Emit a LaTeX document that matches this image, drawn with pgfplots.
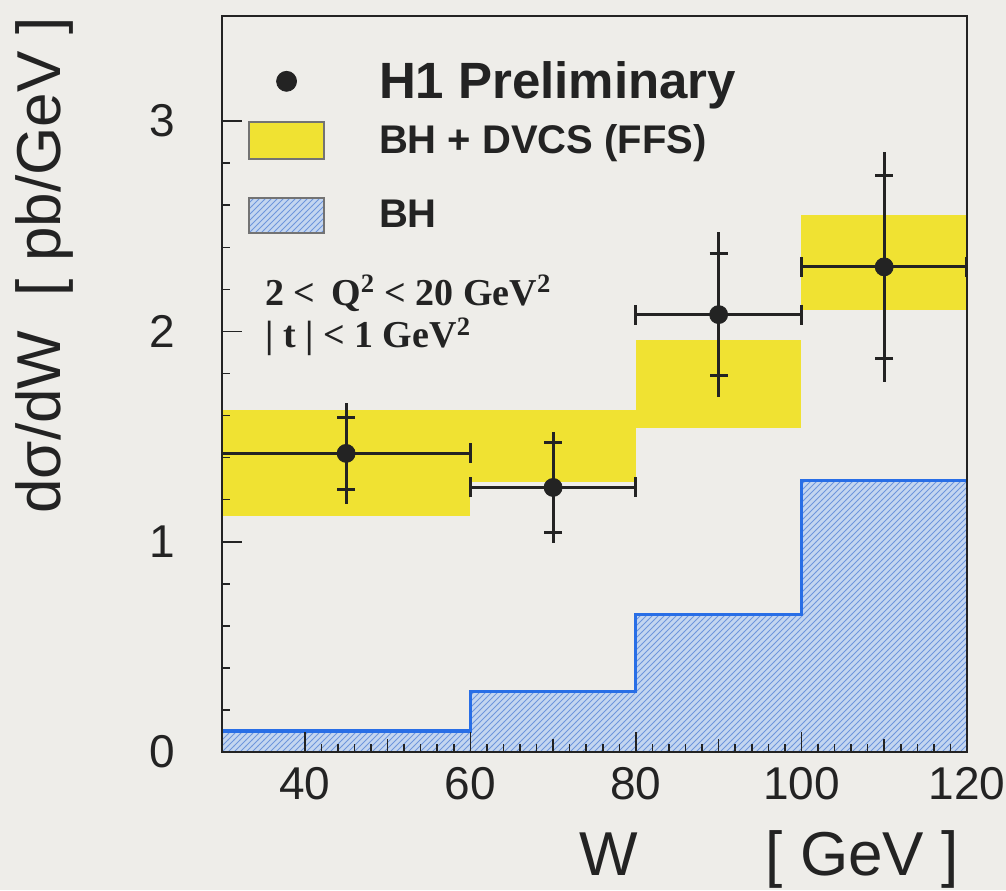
\documentclass[border=0pt]{standalone}
\usepackage{pgfplots}
\pgfplotsset{compat=1.18}
\usepackage{pgfplotstable}
\usepackage{fontspec}
\setmainfont{Liberation Sans}
\newfontfamily\timesfont{Liberation Serif}
\usetikzlibrary{patterns,backgrounds}
\definecolor{bg}{RGB}{238,237,233}
\definecolor{h1yellow}{RGB}{240,226,50}
\definecolor{bhline}{RGB}{40,110,230}
\definecolor{bhfill}{RGB}{196,214,240}
\definecolor{bhhatch}{RGB}{110,150,220}
\definecolor{ink}{RGB}{35,35,35}

\pgfplotsset{dotlegend/.style={legend image code/.code={\draw[##1, mark size=5pt] plot coordinates {(18.75pt,0pt)}; \path[draw=none,fill=none] (0pt,-10pt) -- (65pt,17pt);}}}

\pgfplotstableread{
x ex y stat tot
45 15 1.420 0.170 0.242
70 10 1.258 0.212 0.265
90 10 2.080 0.290 0.392
110 10 2.307 0.436 0.547
}\datatable

\pgfplotstableread{
x y
30 0.100
60 0.287
80 0.655
100 1.293
120 1.293
}\bhtable

\begin{document}
\begin{tikzpicture}
\begin{axis}[
  scale only axis,
  width=372.5pt, height=368pt,
  xmin=30, xmax=120, ymin=0, ymax=3.5,
  axis on top,
  axis line style={line width=1.2pt, color=ink},
  tick pos=left,
  tick align=inside,
  xtick={40,60,80,100,120},
  minor x tick num=9,
  extra x ticks={50,70,90,110},
  extra x tick labels={},
  extra x tick style={major tick length=6.5pt},
  ytick={0,1,2,3},
  minor y tick num=4,
  major tick length=10pt,
  minor tick length=4pt,
  every tick/.style={color=ink, line width=0.8pt},
  /pgf/number format/assume math mode=true,
  ticklabel style={font=\fontsize{23}{26}\selectfont, color=ink, inner sep=0pt},
  every x tick label/.append style={yshift=-7.5pt},
  every y tick label/.append style={xshift=-23.5pt},
  xlabel={W\hspace{64pt}[ GeV ]},
  xlabel style={at={(axis description cs:1,0)}, anchor=base east, yshift=-61.5pt, xshift=-4pt,
    inner sep=0pt, font=\fontsize{31}{34}\selectfont, color=ink},
  ylabel={dσ/dW\ \ [ pb/GeV ]},
  ylabel style={at={(axis description cs:-0.278,0.999)}, anchor=north east,
    inner sep=0pt, font=\fontsize{31}{34}\selectfont, color=ink},
  legend style={at={(axis description cs:0.035,0.958)}, anchor=north west,
    draw=none, fill=none, inner sep=0pt, row sep=10pt,
    font=\bfseries\fontsize{20}{24}\selectfont, text=ink,
    nodes={inner sep=0pt}},
  legend cell align=left,
]
% yellow bands (BH + DVCS)
\addplot[draw=none, fill=h1yellow, forget plot] coordinates {(30,1.122) (60,1.122) (60,1.625) (30,1.625)};
\addplot[draw=none, fill=h1yellow, forget plot] coordinates {(60,1.285) (80,1.285) (80,1.625) (60,1.625)};
\addplot[draw=none, fill=h1yellow, forget plot] coordinates {(80,1.539) (100,1.539) (100,1.958) (80,1.958)};
\addplot[draw=none, fill=h1yellow, forget plot] coordinates {(100,2.101) (120,2.101) (120,2.553) (100,2.553)};
% BH histogram
\addplot[const plot, draw=none, fill=bhfill, postaction={pattern=north east lines, pattern color=bhhatch}, forget plot]
  table[x=x, y=y] {\bhtable} \closedcycle;
\addplot[const plot, color=bhline, line width=1.6pt, forget plot] table[x=x, y=y] {\bhtable};
% data: total vertical errors (no caps)
\addplot[only marks, mark=none, color=ink, forget plot,
  error bars/.cd, y dir=both, y explicit,
  error bar style={line width=1.5pt, color=ink},
  error mark options={mark size=0pt}]
  table[x=x, y=y, y error=tot] {\datatable};
% horizontal bin bars with end caps
\addplot[only marks, mark=none, color=ink, forget plot,
  error bars/.cd, x dir=both, x explicit,
  error bar style={line width=1.5pt, color=ink},
  error mark options={rotate=90, mark size=5pt, line width=1.5pt}]
  table[x=x, y=y, x error=ex] {\datatable};
% statistical ticks
\addplot[only marks, mark=none, color=ink, forget plot,
  error bars/.cd, y dir=both, y explicit,
  error bar style={line width=1.5pt, color=ink},
  error mark options={rotate=90, mark size=4.5pt, line width=1.5pt}]
  table[x=x, y=y, y error=stat] {\datatable};
% markers
\addplot[only marks, mark=*, mark size=4.5pt, color=ink, fill=ink, dotlegend]
  table[x=x, y=y] {\datatable};
\addlegendentry{\fontsize{25.5}{30}\selectfont H1 Preliminary}
\addlegendimage{legend image code/.code={\draw[fill=h1yellow, draw=black!55, line width=0.6pt] (0pt,-9.25pt) rectangle (37.5pt,9.25pt); \path[draw=none,fill=none] (0pt,0pt) -- (65pt,0pt);}}
\addlegendentry{BH + DVCS (FFS)}
\addlegendimage{legend image code/.code={\draw[fill=bhfill, draw=black!55, line width=0.6pt, postaction={pattern=north east lines, pattern color=bhhatch}] (0pt,-8.75pt) rectangle (37.5pt,8.75pt); \path[draw=none,fill=none] (0pt,0pt) -- (65pt,18pt);}}
\addlegendentry{BH}
\node[anchor=base west, inner sep=0pt, text=ink, font=\timesfont\bfseries\fontsize{19}{22}\selectfont]
  at (axis description cs:0.0577,0.607) {2 <\, Q\textsuperscript{2} < 20 GeV\textsuperscript{2}};
\node[anchor=base west, inner sep=0pt, text=ink, font=\timesfont\bfseries\fontsize{19}{22}\selectfont]
  at (axis description cs:0.0577,0.549) {| t | < 1 GeV\textsuperscript{2}};
\end{axis}
\pgfresetboundingbox
\begin{scope}[on background layer]
\fill[bg] (-111pt,-69pt) rectangle (392pt,376pt);
\end{scope}
\useasboundingbox (-111pt,-69pt) rectangle (392pt,376pt);
\end{tikzpicture}
\end{document}
